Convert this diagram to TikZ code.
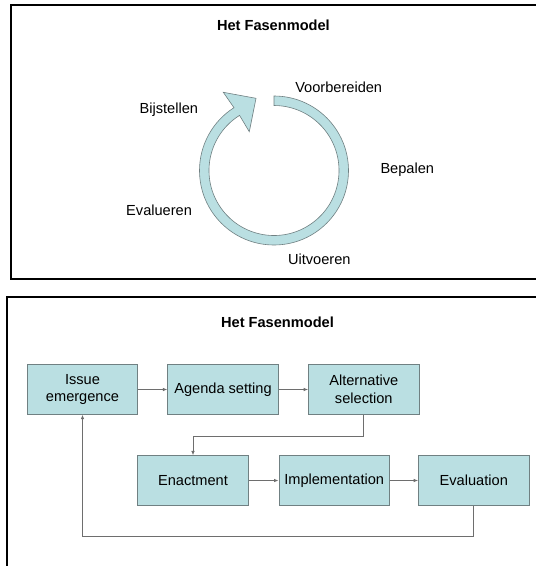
\documentclass[tikz,border=0pt]{standalone}
\usepackage{fontspec}
\setmainfont{Liberation Sans}
\usetikzlibrary{arrows.meta}
\definecolor{tealfill}{RGB}{186,223,226}
\definecolor{tealedge}{RGB}{112,128,130}
\definecolor{connline}{RGB}{110,110,110}
\begin{document}
\begin{tikzpicture}[x=1pt,y=-1pt,
  every node/.style={font=\fontsize{14.6}{17.6}\selectfont, inner sep=0pt},
  titlelabel/.style={font=\fontsize{14.6}{17.6}\selectfont\bfseries},
  frameline/.style={line width=2pt, black},
  phasebox/.style={rectangle, draw=tealedge, fill=tealfill, line width=0.8pt,
    minimum width=110.6pt, minimum height=49.6pt, align=center},
  conn/.style={draw=connline, line width=0.8pt,
    -{Latex[length=4.5pt,width=3.6pt]}}]
\useasboundingbox (0,0) rectangle (536,566);
\fill[white] (0,0) rectangle (536,566);

% ---- upper panel: cyclic phase model ----
\draw[frameline] (540,5) -- (11,5) -- (11,279) -- (540,279);
\node[titlelabel] (t1) at (273.4,25) {Het Fasenmodel};

\begin{scope}[shift={(274,170.5)}]
  \filldraw[fill=tealfill, draw=tealedge, line width=0.6pt]
    (-90:74.5) arc[start angle=-90, end angle=237.5, radius=74.5]
    -- (-50.7,-78.2) -- (-18,-72.2) -- (-24.7,-38.8)
    -- (238:65) arc[start angle=238, end angle=-90, radius=65] -- cycle;
\end{scope}

\node (voor) at (338.7,87)  {Voorbereiden};
\node (bijs) at (168.8,110) {Bijstellen};
\node (bepa) at (407.3,170) {Bepalen};
\node (eval) at (159.1,210.7) {Evalueren};
\node (uitv) at (319.3,259) {Uitvoeren};

% ---- lower panel: policy cycle ----
\draw[frameline] (540,297) -- (7,297) -- (7,570);
\node[titlelabel] (t2) at (277.5,322.3) {Het Fasenmodel};

\node[phasebox] (b1) at (82.5,389.5)  {Issue\\emergence};
\node[phasebox] (b2) at (223,389.5)   {Agenda setting};
\node[phasebox] (b3) at (363.8,389.5) {Alternative\\selection};
\node[phasebox] (b4) at (193,480.5)   {Enactment};
\node[phasebox] (b5) at (334.2,480.5) {Implementation};
\node[phasebox] (b6) at (473.8,480.5) {Evaluation};

\draw[conn] (b1) -- (b2);
\draw[conn] (b2) -- (b3);
\draw[conn] (b3.south) -- ++(0,21.5) -| (b4.north);
\draw[conn] (b4) -- (b5);
\draw[conn] (b5) -- (b6);
\draw[conn] (b6.south) -- ++(0,30.5) -| (b1.south);
\end{tikzpicture}
\end{document}
